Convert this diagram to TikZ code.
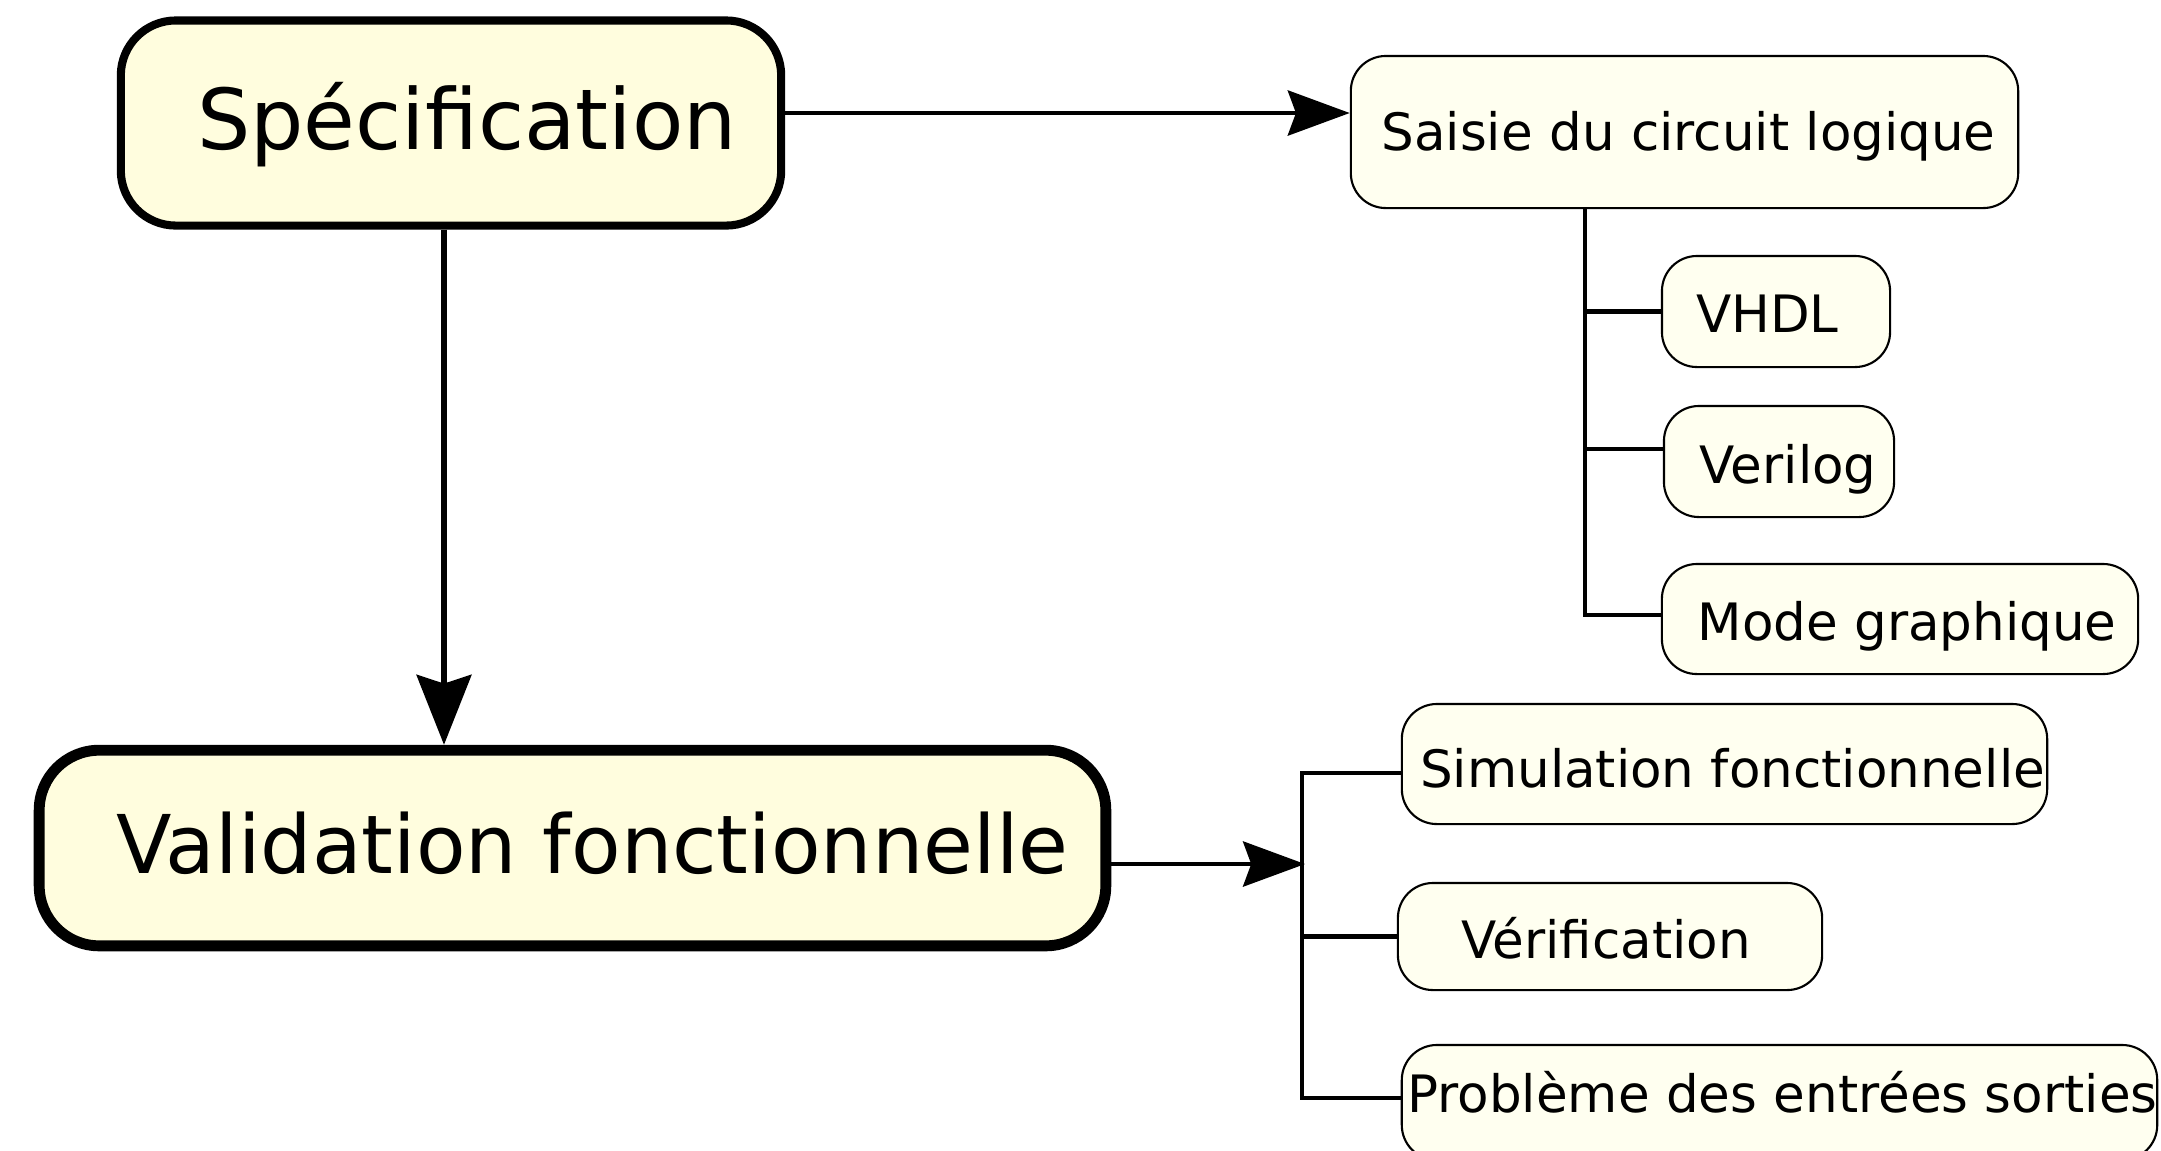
\documentclass[tikz,border=0pt]{standalone}
\usepackage{fontspec}
\setmainfont{DejaVu Sans}
\usetikzlibrary{arrows.meta}

\definecolor{stagefill}{HTML}{FFFDDE}
\definecolor{taskfill}{HTML}{FFFFF0}

\newcommand\stagefontA{\fontsize{23.9pt}{28pt}\selectfont}
\newcommand\stagefontB{\fontsize{23.05pt}{27pt}\selectfont}
\newcommand\taskfont{\fontsize{14.65pt}{17pt}\selectfont}

\begin{document}
\begin{tikzpicture}[x=0.01cm, y=-0.01cm,
  stagebox/.style={draw, fill=stagefill, inner sep=0pt},
  taskbox/.style={draw, fill=taskfill, line width=0.6pt, rounded corners=0.35cm, inner sep=0pt},
  % captions are centred on the middle of their capitals
  capA/.style={inner sep=0pt, font=\stagefontA, text height=17.42pt, text depth=0pt},
  capB/.style={inner sep=0pt, font=\stagefontB, text height=16.80pt, text depth=0pt},
  capT/.style={inner sep=0pt, font=\taskfont, text height=10.68pt, text depth=0pt},
  flow/.style={line width=1.4pt, -{Stealth[length=17.6pt, width=12.8pt, inset=2.3pt]}},
  flowdown/.style={line width=1.45pt, -{Stealth[length=19.9pt, width=15.6pt, inset=2.5pt]}},
  branch/.style={line width=1.35pt}]

\useasboundingbox[fill=white] (0,0) rectangle (2161,1150);

% main stages
\node[stagebox, line width=2.3pt, rounded corners=0.55cm,
  minimum width=6.60cm, minimum height=2.05cm,
  label={[capA, xshift=0.16cm, yshift=0.04cm]center:Spécification}]
  (spec) at (451,123) {};
\node[stagebox, line width=3.1pt, rounded corners=0.6cm,
  minimum width=10.66cm, minimum height=1.955cm,
  label={[capB, xshift=0.20cm, yshift=0.04cm]center:Validation fonctionnelle}]
  (valid) at (572.5,848) {};

% entry task and its options
\node[taskbox, minimum width=6.67cm, minimum height=1.52cm,
  label={[capT, xshift=0.04cm]center:Saisie du circuit logique}]
  (saisie) at (1684.5,132) {};
\node[taskbox, minimum width=2.28cm, minimum height=1.11cm,
  label={[capT, xshift=-0.085cm, yshift=-0.02cm]center:VHDL}]
  (vhdl) at (1776,311.5) {};
\node[taskbox, minimum width=2.30cm, minimum height=1.11cm,
  label={[capT, xshift=0.09cm, yshift=-0.035cm]center:Verilog}]
  (verilog) at (1779,461.5) {};
\node[taskbox, minimum width=4.76cm, minimum height=1.10cm,
  label={[capT, xshift=0.07cm, yshift=-0.025cm]center:Mode graphique}]
  (mode) at (1900,619) {};

% validation tasks
\node[taskbox, minimum width=6.45cm, minimum height=1.20cm,
  label={[capT, xshift=0.08cm, yshift=-0.045cm]center:Simulation fonctionnelle}]
  (simu) at (1724.5,764) {};
\node[taskbox, minimum width=4.24cm, minimum height=1.07cm,
  label={[capT, xshift=-0.04cm, yshift=-0.035cm]center:Vérification}]
  (verif) at (1610,936.5) {};
\node[taskbox, minimum width=7.55cm, minimum height=1.15cm,
  label={[capT, xshift=0.03cm, yshift=0.085cm]center:Problème des entrées sorties}]
  (prob) at (1779.5,1102.5) {};

% helper points for the connectors
\coordinate (toprow) at (0,113);
\coordinate (downx) at (444,0);
\coordinate (trunkA) at (1585,615);
\coordinate (verilogrow) at (1585,449);
\coordinate (trunkBtop) at (1302,773);
\coordinate (trunkBbot) at (1302,1098);
\coordinate (valrow) at (1305,864);

% connectors
\draw[flow] (spec.east |- toprow) -- (saisie.west |- toprow);
\draw[flowdown] (spec.south -| downx) -- (valid.north -| downx);
\draw[flow] (valid.east |- valrow) -- (valrow);

\draw[branch] (saisie.south -| trunkA) |- (mode.west |- trunkA);
\draw[branch] (trunkA |- vhdl.west) -- (vhdl.west);
\draw[branch] (verilogrow) -- (verilog.west |- verilogrow);

\draw[branch] (simu.west |- trunkBtop) -- (trunkBtop) -- (trunkBbot) -- (prob.west |- trunkBbot);
\draw[branch] (trunkBtop |- verif.west) -- (verif.west);
\end{tikzpicture}
\end{document}
